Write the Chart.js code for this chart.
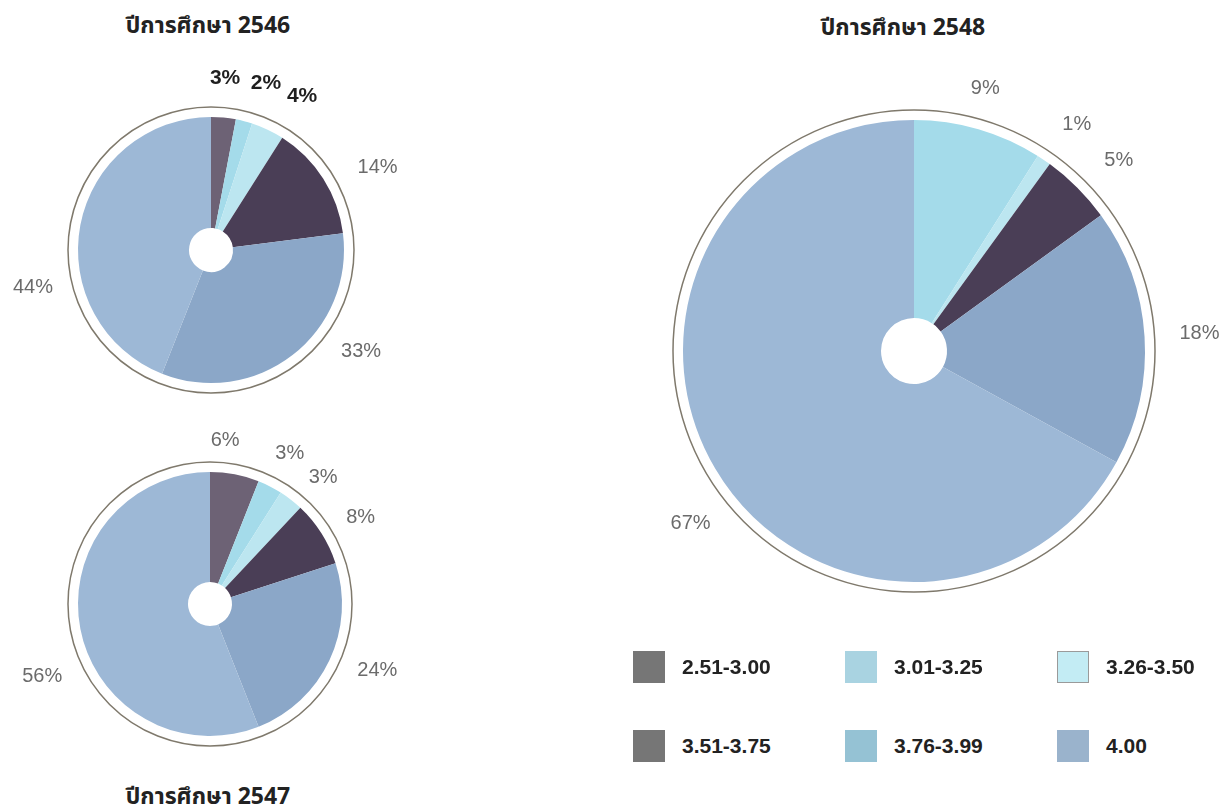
<!DOCTYPE html>
<html>
<head>
<meta charset="utf-8">
<script src="https://cdn.jsdelivr.net/npm/chart.js@4"></script>
<style>
  html, body { margin: 0; padding: 0; background: #fff; overflow: hidden; }
  body { width: 1223px; height: 809px; position: relative; font-family: "Liberation Sans", Arial, sans-serif; }
  canvas { position: absolute; }
  .title { position: absolute; transform: translate(-50%, -50%); font: bold 23px "Noto Sans Thai", "Liberation Sans", sans-serif; color: #222; white-space: nowrap; }
  .key { position: absolute; display: flex; align-items: center; }
  .key span { display: inline-block; width: 32px; height: 32px; box-sizing: border-box; margin-right: 17px; }
  .key b { font: bold 21px "Liberation Sans", Arial, sans-serif; color: #222; }
</style>
</head>
<body>
<div class="title" id="t0" style="left:208px; top:26px"></div>
<div class="title" id="t1" style="left:208px; top:797px"></div>
<div class="title" id="t2" style="left:903px; top:28px"></div>

<canvas id="pie2546" width="420" height="420" style="left:1px; top:40px"></canvas>
<canvas id="pie2547" width="420" height="420" style="left:0px; top:394px"></canvas>
<canvas id="pie2548" width="640" height="640" style="left:594px; top:31px"></canvas>
<div id="legend"></div>

<script>
// GPA ranges
const categories = ["2.51-3.00", "3.01-3.25", "3.26-3.50", "3.51-3.75", "3.76-3.99", "4.00"];
const years = ["ปีการศึกษา 2546", "ปีการศึกษา 2547", "ปีการศึกษา 2548"];

// percent of students per range
const share2546 = [3, 2, 4, 14, 33, 44];
const share2547 = [6, 3, 3, 8, 24, 56];
const share2548 = [0, 9, 1, 5, 18, 67];

const sliceColors = ["#6d6275", "#a4dbea", "#bce6f0", "#4a3e56", "#8ba7c8", "#9db8d6"];
const legendColors = ["#767676", "#a9d3e1", "#c3ecf4", "#767676", "#95c2d4", "#9ab3cc"];

// outer ring + percent labels around each pie
const ringAndLabels = {
  id: "ringAndLabels",
  afterDatasetsDraw(chart, args, opts) {
    const meta = chart.getDatasetMeta(0);
    const ctx = chart.ctx;
    const { x, y, outerRadius } = meta.data[0].getProps(["x", "y", "outerRadius"], true);
    ctx.save();
    ctx.beginPath();
    ctx.arc(x, y, outerRadius + opts.ringGap, 0, Math.PI * 2);
    ctx.strokeStyle = "#7f796c";
    ctx.lineWidth = 1.5;
    ctx.stroke();

    ctx.textAlign = "center";
    ctx.textBaseline = "middle";
    const values = chart.data.datasets[0].data;
    meta.data.forEach((arc, i) => {
      if (!values[i]) return;
      const p = arc.getProps(["startAngle", "endAngle"], true);
      const a = (p.startAngle + p.endAngle) / 2 + (opts.nudge[i] || 0) * Math.PI / 180;
      const r = outerRadius + opts.offset + (opts.push[i] || 0);
      const bold = opts.bold.includes(i);
      ctx.font = bold ? 'bold 21px "Liberation Sans"' : '20px "Liberation Sans"';
      ctx.fillStyle = bold ? "#1f1f1f" : "#6b6b6b";
      ctx.fillText(values[i] + "%", x + r * Math.cos(a), y + r * Math.sin(a));
    });
    ctx.restore();
  }
};

function makePie(id, values, pad, hole, labelOpts) {
  const ctx = document.getElementById(id).getContext("2d");
  return new Chart(ctx, {
    type: "doughnut",
    data: {
      labels: categories,
      datasets: [{
        data: values,
        backgroundColor: sliceColors,
        borderWidth: 0,
        hoverOffset: 0
      }]
    },
    options: {
      responsive: false,
      animation: false,
      cutout: hole,
      layout: { padding: pad },
      plugins: {
        legend: { display: false },
        tooltip: { enabled: false },
        ringAndLabels: labelOpts
      }
    },
    plugins: [ringAndLabels]
  });
}

makePie("pie2546", share2546, 77, 22, {
  ringGap: 10, offset: 45,
  nudge: [-0.7, 3.8, 5.4, 6, -18.2, -22.8],
  push: [-6, -2, 1, 8, 3, 4],
  bold: [0, 1, 2]
});
makePie("pie2547", share2547, 78, 22, {
  ringGap: 10, offset: 42,
  nudge: [-5.5, 1, 3.9, 2.4, -3.6, -12.7],
  push: [-10, -4, -4, 0, 6, 9],
  bold: []
});
makePie("pie2548", share2548, 89, 33, {
  ringGap: 10, offset: 49,
  nudge: [0, -1, 1.5, 2, 0, -7],
  push: [0, -8, -1, 0, 6, 2],
  bold: []
});

years.forEach((t, i) => { document.getElementById("t" + i).textContent = t; });

// legend, 3 columns x 2 rows
const legendX = [633, 845, 1057];
const legendY = [651, 730];
const legend = document.getElementById("legend");
categories.forEach((c, i) => {
  const item = document.createElement("div");
  item.className = "key";
  item.style.left = legendX[i % 3] + "px";
  item.style.top = legendY[Math.floor(i / 3)] + "px";
  const sw = document.createElement("span");
  sw.style.background = legendColors[i];
  if (i === 2) sw.style.border = "1px solid #9a9a9a";
  const txt = document.createElement("b");
  txt.textContent = c;
  item.appendChild(sw);
  item.appendChild(txt);
  legend.appendChild(item);
});
</script>
</body>
</html>
